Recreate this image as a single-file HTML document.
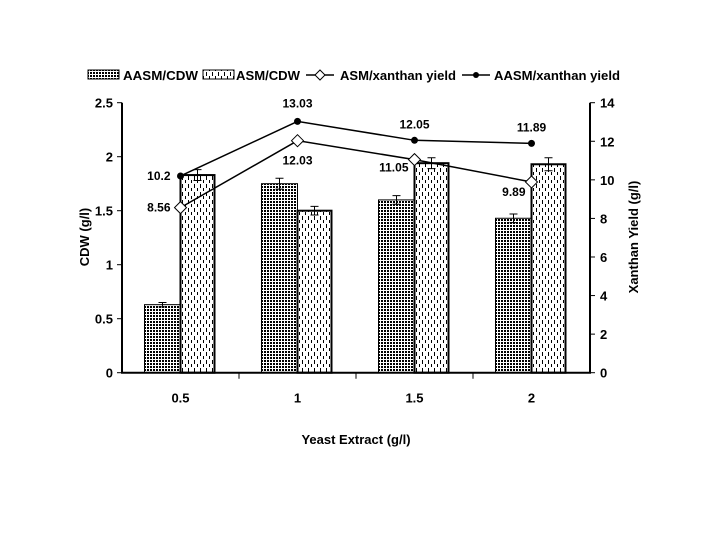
<!DOCTYPE html>
<html><head><meta charset="utf-8"><style>
body{margin:0;background:#fff}
svg text{font-family:"Liberation Sans",Arial,sans-serif;font-weight:bold;fill:#000}
</style></head><body>
<svg id="c" width="720" height="540" xmlns="http://www.w3.org/2000/svg">
<defs>
<pattern id="dots" width="3" height="3" patternUnits="userSpaceOnUse"><rect width="3" height="3" fill="#fff"/><rect width="2" height="2" fill="#000"/></pattern>
<pattern id="dash" width="6" height="8" patternUnits="userSpaceOnUse"><rect width="6" height="8" fill="#fff"/><rect x="2" y="0" width="1" height="4" fill="#000"/><rect x="5" y="4" width="1" height="3" fill="#000"/></pattern>
</defs>
<g id="g"></g>
</svg>
<script>
const categories=["0.5","1","1.5","2"];
const aasmCdw=[0.63,1.75,1.60,1.43];
const aasmErr=[0.02,0.05,0.04,0.04];
const asmCdw=[1.83,1.50,1.94,1.93];
const asmErr=[0.05,0.04,0.05,0.06];
const asmYield=[8.56,12.03,11.05,9.89];
const aasmYield=[10.2,13.03,12.05,11.89];
const leftTicks=["0","0.5","1","1.5","2","2.5"];
const rightTicks=["0","2","4","6","8","10","12","14"];
const L=122,R=590,T=102.7,B=372.7;
const yL=v=>B-(B-T)*v/2.5, yR=v=>B-(B-T)*v/14;
const bw=(R-L)/categories.length, cx=i=>L+bw*(i+0.5);
const g=document.getElementById('g');
function el(t,a,txt){const e=document.createElementNS('http://www.w3.org/2000/svg',t);for(const k in a)e.setAttribute(k,a[k]);if(txt!=null)e.textContent=txt;g.appendChild(e);return e;}
categories.forEach((c,i)=>{
 let x=cx(i);
 let b1=el('rect',{x:x-36,y:yL(aasmCdw[i]),width:36,height:B-yL(aasmCdw[i]),fill:'url(#dots)',stroke:'#000','stroke-width':1});
 
 
 let b2=el('rect',{x:x,y:yL(asmCdw[i]),width:34,height:B-yL(asmCdw[i]),fill:'url(#dash)',stroke:'#000','stroke-width':2});
 
 
 [[x-18,aasmCdw[i],aasmErr[i]],[x+17,asmCdw[i],asmErr[i]]].forEach(([ex,v,e])=>{
  let p=el('path',{d:`M${ex},${yL(v+e)}V${yL(v-e)}M${ex-4},${yL(v+e)}H${ex+4}M${ex-4},${yL(v-e)}H${ex+4}`,stroke:'#000',fill:'none'});
  
  
 });
});
el('path',{d:`M${L},${T}V${B}H${R}V${T}`,stroke:'#000','stroke-width':2,fill:'none'});
leftTicks.forEach((t,i)=>{let y=yL(+t);el('line',{x1:L-5,x2:L,y1:y,y2:y,stroke:'#000'});
 let tx=el('text',{x:L-9,y:y+5,'text-anchor':'end','font-size':13},t);
 
 });
rightTicks.forEach(t=>{let y=yR(+t);el('line',{x1:R,x2:R+5,y1:y,y2:y,stroke:'#000'});
 let tx=el('text',{x:R+10,y:y+5,'font-size':13},t);
 
 });
categories.forEach((c,i)=>{let x=L+bw*(i+1);if(i<3)el('line',{x1:x,x2:x,y1:B,y2:B+6,stroke:'#000'});
 let tx=el('text',{x:cx(i),y:B+30,'text-anchor':'middle','font-size':13},c);
 
 });
function line(arr,filled,name){
 let p=el('polyline',{points:arr.map((v,i)=>cx(i)+','+yR(v)).join(' '),fill:'none',stroke:'#000','stroke-width':1.5});
 
 
 arr.forEach((v,i)=>{let x=cx(i),y=yR(v);let m;
  if(filled)m=el('circle',{cx:x,cy:y,r:3.5,fill:'#000'});
  else m=el('path',{d:`M${x},${y-6}L${x+6},${y}L${x},${y+6}L${x-6},${y}Z`,fill:'#fff',stroke:'#000'});
  
  });
}
line(asmYield,false,'asm-xanthan-line');
line(aasmYield,true,'aasm-xanthan-line');
const lblA=[[-10,4,'end'],[0,-14,'middle'],[0,-12,'middle'],[0,-12,'middle']];
const lblS=[[-10,4,'end'],[0,24,'middle'],[-6,12,'end'],[-6,14,'end']];
aasmYield.forEach((v,i)=>{let t=el('text',{x:cx(i)+lblA[i][0],y:yR(v)+lblA[i][1],'text-anchor':lblA[i][2],'font-size':12},String(v));
 });
asmYield.forEach((v,i)=>{let t=el('text',{x:cx(i)+lblS[i][0],y:yR(v)+lblS[i][1],'text-anchor':lblS[i][2],'font-size':12},String(v));
 });
let t1=el('text',{x:356,y:444,'text-anchor':'middle','font-size':13},'Yeast Extract (g/l)');

let t2=el('text',{transform:'translate(89,237) rotate(-90)','text-anchor':'middle','font-size':13},'CDW (g/l)');

let t3=el('text',{transform:'translate(638,237) rotate(-90)','text-anchor':'middle','font-size':13},'Xanthan Yield (g/l)');

let lg=[['rect','url(#dots)',88,'AASM/CDW',123,75],['rect','url(#dash)',203,'ASM/CDW',236,64],['dia',0,306,'ASM/xanthan yield',340,116],['dot',0,462,'AASM/xanthan yield',494,126]];
lg.forEach(([k,f,x,lab,tx0,tw])=>{
 if(k==='rect')el('rect',{x:x,y:70,width:31,height:9,fill:f,stroke:'#000'});
 else{el('line',{x1:x,x2:x+28,y1:75,y2:75,stroke:'#000','stroke-width':1.5});
  if(k==='dia')el('path',{d:`M${x+14},70L${x+19},75L${x+14},80L${x+9},75Z`,fill:'#fff',stroke:'#000'});
  else el('circle',{cx:x+14,cy:75,r:3,fill:'#000'});}
 let t=el('text',{x:tx0,y:80,'font-size':13,textLength:tw,lengthAdjust:'spacingAndGlyphs'},lab);
 
});
</script>
</body></html>
